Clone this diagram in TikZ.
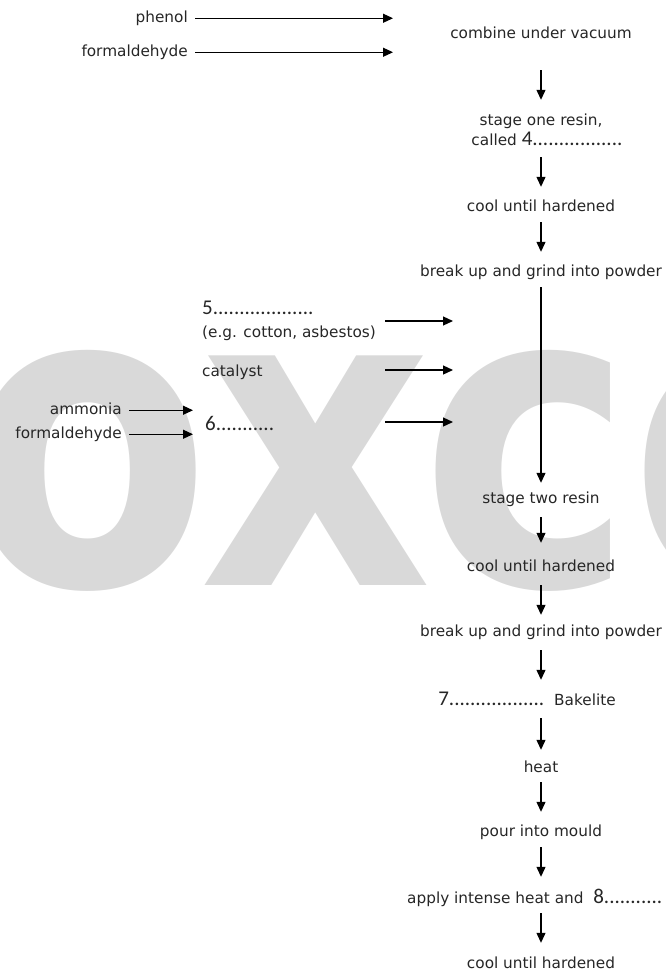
\documentclass[tikz,border=0pt]{standalone}
\usepackage{fontspec}
\setmainfont{DejaVu Sans}
\newfontfamily\numfam{Carlito}
\usetikzlibrary{arrows.meta}
\definecolor{wm}{HTML}{D9D9D9}
\definecolor{ink}{HTML}{262626}
\newcommand\blankfill[2]{{\numfam\fontsize{21}{21}\selectfont #1#2}}
\begin{document}
\begin{tikzpicture}[x=1pt,y=-1pt,
  lab/.style={font=\fontsize{15.3}{18}\selectfont, inner sep=0pt, text height=11pt, text depth=3.5pt, text=ink},
  arr/.style={draw=black, line width=1.2pt, -{Triangle[length=10pt,width=9pt]}},
  wmk/.style={text=wm, font=\bfseries\fontsize{420}{420}\selectfont, inner sep=0pt, anchor=base}]
\useasboundingbox (0,0) rectangle (665,972);
% watermark
\node[wmk] (w1) at (88,585) {\scalebox{0.86}[1]{o}};
\node[wmk] (w2) at (316,585) {\scalebox{0.86}[1]{x}};
\node[wmk] (w3) at (528,585) {\scalebox{0.86}[1]{c}};
\node[wmk] (w4) at (754,585) {\scalebox{0.86}[1]{o}};
% main column
\node[lab, anchor=base] (combine) at (541,38) {combine under vacuum};
\node[lab, anchor=base] (s1a) at (541,125) {stage one resin,};
\node[lab, anchor=base] (s1b) at (547,145) {called \blankfill{4}{.................}};
\node[lab, anchor=base] (cool1) at (541,211) {cool until hardened};
\node[lab, anchor=base] (brk1) at (541,276) {break up and grind into powder};
\node[lab, anchor=base] (stage2) at (541,503) {stage two resin};
\node[lab, anchor=base] (cool2) at (541,571) {cool until hardened};
\node[lab, anchor=base] (brk2) at (541,636) {break up and grind into powder};
\node[lab, anchor=base] (seven) at (527,705) {\blankfill{7}{..................}\ \ Bakelite};
\node[lab, anchor=base] (heat) at (541,772) {heat};
\node[lab, anchor=base] (pour) at (541,836) {pour into mould};
\node[lab, anchor=base west] (apply) at (407,903) {apply intense heat and \ \blankfill{8}{...........}};
\node[lab, anchor=base] (cool3) at (541,968) {cool until hardened};
% inputs
\node[lab, anchor=base east] (phenol) at (188,22) {phenol};
\node[lab, anchor=base east] (form1) at (188,56) {formaldehyde};
\node[lab, anchor=base west] (five) at (202,314) {\blankfill{5}{...................}};
\node[lab, anchor=base west] (eg) at (202,337) {(e.g. cotton, asbestos)};
\node[lab, anchor=base west] (cat) at (202,376) {catalyst};
\node[lab, anchor=base west] (six) at (205,430) {\blankfill{6}{...........}};
\node[lab, anchor=base east] (amm) at (122,414) {ammonia};
\node[lab, anchor=base east] (form2) at (122,438) {formaldehyde};
% free ends
\coordinate (pend) at (393,17);
\coordinate (j5) at (453,321);
\coordinate (jc) at (453,370);
\coordinate (j6) at (453,422);
% side arrows
\draw[arr, shorten <=7] (phenol.east) -- (phenol.east -| pend);
\draw[arr, shorten <=7] (form1.east) -- (form1.east -| pend);
\draw[arr, shorten <=9] (eg.east |- j5) -- (j5);
\draw[arr, shorten <=9] (eg.east |- jc) -- (jc);
\draw[arr, shorten <=9] (eg.east |- j6) -- (j6);
\draw[arr, shorten <=7, shorten >=12] (amm.east) -- (amm.east -| six.west);
\draw[arr, shorten <=7, shorten >=12] (form2.east) -- (form2.east -| six.west);
% main arrows
\draw[arr, shorten <=28.5, shorten >=14] (combine.south) -- (s1a.north);
\draw[arr, shorten <=8.5, shorten >=13] (cool1.north |- s1b.south) -- (cool1.north);
\draw[arr, shorten <=7.5, shorten >=13] (cool1.south) -- (brk1.north);
\draw[arr, shorten <=7.5, shorten >=9] (brk1.south) -- (stage2.north);
\draw[arr, shorten <=10.5, shorten >=17] (stage2.south) -- (cool2.north);
\draw[arr, shorten <=10.5, shorten >=10] (cool2.south) -- (brk2.north);
\draw[arr, shorten <=10.5, shorten >=14] (brk2.south) -- (brk2.south |- seven.north);
\draw[arr, shorten <=9.5, shorten >=11] (heat.north |- seven.south) -- (heat.north);
\draw[arr, shorten <=6.5, shorten >=13] (heat.south) -- (pour.north);
\draw[arr, shorten <=7.5, shorten >=15] (pour.south) -- (pour.south |- apply.north);
\draw[arr, shorten <=6.5, shorten >=14] (cool3.north |- apply.south) -- (cool3.north);
\end{tikzpicture}
\end{document}
